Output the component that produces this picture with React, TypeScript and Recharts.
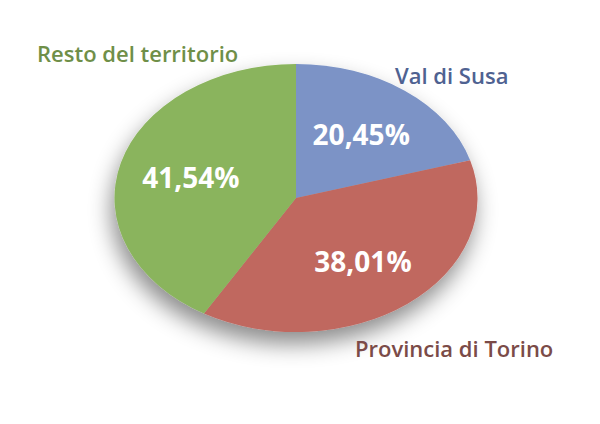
import { PieChart, Pie, Cell } from "recharts"

const categories = ["Val di Susa", "Provincia di Torino", "Resto del territorio"]
const shares = [20.45, 38.01, 41.54]

const sliceColors = ["#7b93c6", "#c0675f", "#8ab45d"]
const nameColors = ["#4f6291", "#7b4b48", "#6f8f48"]

// where the category names sit (text anchor points)
const namePlacement = [
  { x: 395, y: 84, anchor: "start" },
  { x: 355, y: 357, anchor: "start" },
  { x: 37, y: 62, anchor: "start" },
]

const data = categories.map((name, i) => ({ name, value: shares[i] }))

const W = 600
const H = 424
const CX = 296
const CY = 198
const RX = 181.5
const Y_RATIO = 134 / 181.5
const RAD = Math.PI / 180
const FONT = "'Open Sans', 'DejaVu Sans', sans-serif"

function EllipseSector(props: any) {
  const { cx, cy, outerRadius, startAngle, endAngle, fill } = props
  const ry = outerRadius * Y_RATIO
  const pt = (a: number) => [cx + outerRadius * Math.cos(a * RAD), cy - ry * Math.sin(a * RAD)]
  const [sx, sy] = pt(startAngle)
  const [ex, ey] = pt(endAngle)
  const large = Math.abs(endAngle - startAngle) > 180 ? 1 : 0
  const d = `M${cx},${cy} L${sx},${sy} A${outerRadius},${ry} 0 ${large} 1 ${ex},${ey} Z`
  return <path d={d} fill={fill} stroke="none" />
}

function renderPercent(props: any) {
  const { cx, cy, midAngle, outerRadius, value } = props
  const f = 0.6
  const x = cx + outerRadius * f * Math.cos(midAngle * RAD)
  const y = cy - outerRadius * Y_RATIO * f * Math.sin(midAngle * RAD)
  return (
    <text
      x={x}
      y={y}
      fill="#ffffff"
      textAnchor="middle"
      dominantBaseline="central"
      fontFamily={FONT}
      fontSize={28}
      fontWeight={700}
    >
      {value.toFixed(2).replace(".", ",")}%
    </text>
  )
}

export default function App() {
  return (
    <div style={{ position: "absolute", left: 0, top: 0, width: W, height: H, background: "#ffffff" }}>
      <style>{`.recharts-pie { filter: url(#pieShadow); }`}</style>
      <PieChart width={W} height={H} margin={{ top: 0, right: 0, bottom: 0, left: 0 }}>
        <defs>
          <filter id="pieShadow" x="-30%" y="-30%" width="160%" height="170%">
            <feDropShadow dx={-3} dy={12} stdDeviation={11} floodColor="#000000" floodOpacity={0.45} />
          </filter>
        </defs>
        <Pie
          data={data}
          dataKey="value"
          nameKey="name"
          cx={CX}
          cy={CY}
          outerRadius={RX}
          startAngle={90}
          endAngle={-270}
          stroke="none"
          shape={EllipseSector}
          label={renderPercent}
          labelLine={false}
          isAnimationActive={false}
        >
          {data.map((d, i) => (
            <Cell key={d.name} fill={sliceColors[i]} />
          ))}
        </Pie>
      </PieChart>
      <svg
        width={W}
        height={H}
        style={{ position: "absolute", left: 0, top: 0, pointerEvents: "none" }}
      >
        {categories.map((name, i) => (
          <text
            key={name}
            x={namePlacement[i].x}
            y={namePlacement[i].y}
            textAnchor={namePlacement[i].anchor as any}
            fill={nameColors[i]}
            fontFamily={FONT}
            fontSize={22}
            fontWeight={600}
          >
            {name}
          </text>
        ))}
      </svg>
    </div>
  )
}
